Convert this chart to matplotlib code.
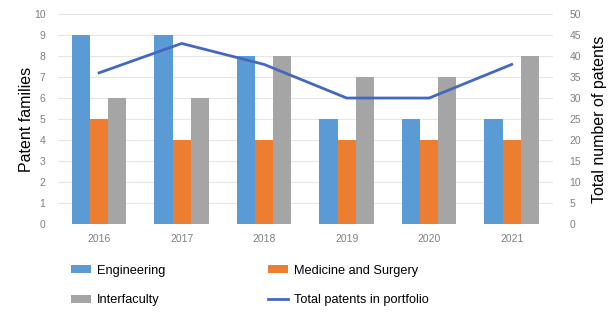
import numpy as np
import matplotlib.pyplot as plt

plt.rcParams['font.family'] = ['Liberation Sans', 'DejaVu Sans']

years = ["2016", "2017", "2018", "2019", "2020", "2021"]
engineering = [9, 9, 8, 5, 5, 5]
medicine = [5, 4, 4, 4, 4, 4]
interfaculty = [6, 6, 8, 7, 7, 8]
total_patents = [36, 43, 38, 30, 30, 38]

fig = plt.figure(figsize=(6.09, 3.12), dpi=100)
ax = fig.add_axes([0.095, 0.282, 0.813, 0.673])
ax2 = ax.twinx()

x = np.arange(len(years))
w = 0.22
ax.bar(x - w, engineering, w, color='#5B9BD5', label='Engineering', zorder=2)
ax.bar(x, medicine, w, color='#ED7D31', label='Medicine and Surgery', zorder=2)
ax.bar(x + w, interfaculty, w, color='#A5A5A5', label='Interfaculty', zorder=2)
ax2.plot(x, total_patents, color='#4468BF', linewidth=2, label='Total patents in portfolio')

ax.set_xlim(-0.5, len(years) - 0.5)
ax.set_ylim(0, 10)
ax2.set_ylim(0, 50)
ax.set_yticks(range(0, 11))
ax2.set_yticks(range(0, 51, 5))
ax.set_xticks(x)
ax.set_xticklabels(years)
ax.grid(axis='y', color='#E6E6E6', linewidth=0.8, zorder=0)

for a in (ax, ax2):
    for s in a.spines.values():
        s.set_visible(False)
    a.tick_params(length=0, labelsize=7.5, labelcolor='#808080')
ax.tick_params(axis='x', pad=7)
ax.tick_params(axis='y', pad=9)
ax2.tick_params(axis='y', pad=12)

ax.set_ylabel('Patent families', fontsize=11.5, labelpad=0)
ax2.set_ylabel('Total number of patents', fontsize=11.5, labelpad=8)

h1, l1 = ax.get_legend_handles_labels()
h2, l2 = ax2.get_legend_handles_labels()
handles = [h1[0], h1[2], h1[1], h2[0]]
labels = [l1[0], l1[2], l1[1], l2[0]]
fig.legend(handles, labels, ncol=2, loc='upper left', bbox_to_anchor=(0.108, 0.168),
           frameon=False, fontsize=9.2, handlelength=1.6, handleheight=0.65,
           columnspacing=8.0, labelspacing=1.38, handletextpad=0.45, borderaxespad=0)

fig.savefig('out.png', dpi=100)
